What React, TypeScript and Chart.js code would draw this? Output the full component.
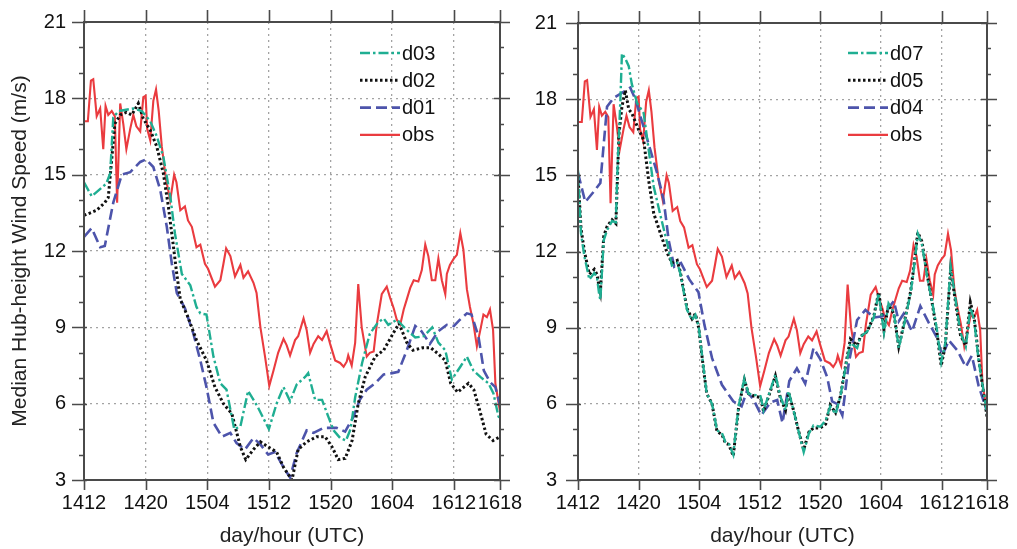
import React, { useEffect, useRef } from 'react';
import { Chart, registerables } from 'chart.js';

Chart.register(...registerables);

// ---------- axis definitions ----------
const tickHours = [0, 8, 16, 24, 32, 40, 48, 54];
const tickLabels = ['1412', '1420', '1504', '1512', '1520', '1604', '1612', '1618'];
const yTicks = [3, 6, 9, 12, 15, 18, 21];

// ---------- observations (hours since 14 Jan 12 UTC, m/s) ----------
const obsHours = [0, 0.5, 0.9, 1.2, 1.65, 2.1, 2.5, 2.8, 3.15, 3.6, 4.0, 4.3, 4.7, 5.1, 5.5, 6.0, 6.4, 6.8, 7.3, 7.7, 8.0, 8.2, 8.6, 9.0, 9.35, 9.7, 10.1, 10.65, 11.2, 11.7, 12.0, 12.5, 13.1, 13.5, 14.0, 14.6, 15.1, 15.7, 16.1, 17.0, 17.7, 18.1, 18.45, 19.0, 19.6, 20.3, 20.7, 21.3, 22.0, 22.4, 22.9, 23.5, 24.05, 24.6, 25.2, 25.9, 26.3, 26.75, 27.4, 27.8, 28.5, 28.9, 29.35, 29.8, 30.4, 30.9, 31.5, 31.95, 32.6, 33.25, 33.7, 34.1, 34.3, 34.75, 35.2, 35.6, 36.05, 36.7, 37.1, 37.6, 38.0, 38.65, 39.3, 39.75, 40.2, 40.6, 41.05, 41.5, 41.9, 42.35, 42.8, 43.4, 43.85, 44.3, 44.7, 45.15, 45.6, 46.0, 46.45, 46.9, 47.1, 47.5, 48.0, 48.4, 48.85, 49.25, 49.7, 50.1, 50.55, 51.0, 51.45, 51.85, 52.3, 52.7, 53.1, 53.4, 54.0];
const obsSpeed = [17.1, 17.1, 18.7, 18.75, 17.3, 17.6, 16.0, 17.7, 17.35, 17.5, 17.3, 13.9, 17.8, 17.0, 16.0, 16.8, 17.35, 16.9, 16.7, 18.05, 18.1, 16.8, 16.35, 17.9, 18.35, 17.5, 16.1, 14.8, 14.0, 15.0, 14.7, 13.6, 13.75, 13.2, 12.95, 12.15, 12.25, 11.5, 11.3, 10.6, 10.85, 11.5, 12.1, 11.8, 11.0, 11.45, 10.95, 11.2, 10.75, 10.35, 9.0, 7.85, 6.7, 7.3, 8.0, 8.55, 8.3, 7.9, 8.5, 8.65, 9.35, 8.9, 8.0, 8.35, 8.65, 8.5, 8.85, 8.35, 7.7, 7.6, 7.45, 7.65, 7.9, 7.5, 8.4, 10.7, 9.0, 7.85, 8.0, 8.05, 9.1, 10.3, 10.6, 10.15, 9.75, 9.3, 9.1, 9.7, 10.1, 10.55, 10.85, 10.8, 11.25, 12.25, 11.8, 10.85, 10.85, 11.7, 10.85, 10.3, 11.1, 11.45, 11.7, 11.85, 12.7, 12.05, 10.5, 9.8, 9.15, 8.25, 8.9, 9.5, 9.4, 9.7, 8.9, 6.8, 5.7];

// ---------- left panel models ----------
const d03Hours = [0, 1.0, 2.9, 3.4, 3.8, 4.5, 6.4, 7.5, 8.6, 9.45, 10.3, 11.2, 11.8, 12.7, 13.8, 14.6, 15.1, 15.9, 16.8, 17.7, 18.5, 19.5, 20.3, 21.3, 22.5, 24.0, 25.0, 25.9, 26.75, 27.6, 28.7, 29.1, 30.0, 30.9, 31.7, 32.4, 33.25, 34.0, 34.6, 35.2, 36.1, 37.1, 38.2, 38.9, 39.5, 40.6, 41.9, 43.0, 44.1, 45.2, 46.0, 46.9, 47.75, 48.85, 49.7, 50.55, 51.45, 52.5, 53.15, 53.8, 54];
const d03Speed = [14.7, 14.15, 14.65, 15.05, 17.25, 17.5, 17.6, 17.5, 17.1, 16.5, 15.7, 14.15, 12.7, 11.1, 10.65, 9.8, 9.55, 9.5, 7.85, 6.8, 6.55, 5.0, 5.1, 6.5, 5.9, 5.0, 6.0, 6.65, 6.1, 6.75, 7.05, 7.2, 6.15, 6.15, 5.5, 4.95, 4.65, 4.55, 5.0, 6.25, 7.6, 8.75, 9.2, 9.35, 9.1, 9.3, 8.9, 8.6, 8.65, 9.0, 8.4, 8.1, 6.95, 7.45, 7.85, 7.3, 7.05, 6.8, 6.4, 5.5, 5.4];

const d02Hours = [0, 1.65, 2.7, 3.15, 3.6, 4.0, 4.7, 5.5, 6.2, 7.05, 7.7, 8.6, 9.45, 10.3, 10.95, 11.6, 12.0, 12.5, 13.5, 14.6, 15.9, 17.0, 18.1, 19.2, 20.3, 21.0, 22.0, 22.9, 23.9, 25.0, 25.9, 27.0, 27.8, 28.9, 30.2, 31.3, 32.2, 33.0, 33.9, 34.8, 35.6, 36.5, 37.8, 38.9, 40.2, 40.9, 41.9, 42.7, 44.0, 45.0, 46.0, 46.9, 47.6, 48.5, 49.9, 50.6, 51.4, 52.2, 53.1, 54];
const d02Speed = [13.4, 13.6, 13.9, 14.1, 15.6, 17.0, 17.35, 17.45, 17.35, 17.8, 17.2, 16.75, 16.1, 15.05, 13.75, 12.2, 11.2, 10.1, 9.4, 8.5, 7.7, 6.65, 6.0, 5.6, 4.3, 3.8, 4.2, 4.5, 4.3, 4.1, 3.5, 3.0, 4.2, 4.5, 4.7, 4.7, 4.3, 3.8, 3.85, 4.55, 6.0, 7.05, 7.85, 8.1, 8.8, 9.15, 8.4, 8.1, 8.2, 8.2, 7.95, 7.7, 6.8, 6.45, 6.8, 6.55, 5.7, 4.8, 4.55, 4.7];

const d01Hours = [0, 1.0, 2.1, 2.7, 3.8, 4.9, 6.0, 7.3, 8.05, 9.0, 9.9, 10.75, 11.4, 12.05, 13.1, 14.2, 15.1, 15.9, 16.8, 17.9, 19.0, 19.8, 20.9, 22.0, 22.9, 23.9, 24.8, 25.9, 26.75, 27.6, 28.9, 29.8, 31.1, 32.8, 33.9, 35.0, 35.8, 36.7, 37.8, 38.9, 40.0, 40.8, 41.9, 43.0, 43.8, 44.9, 46.0, 47.1, 48.0, 48.8, 49.7, 50.3, 51.2, 51.9, 52.7, 53.4, 54];
const d01Speed = [12.55, 12.9, 12.15, 12.2, 13.9, 15.0, 15.1, 15.5, 15.6, 15.3, 14.4, 12.95, 11.5, 10.35, 9.75, 8.75, 7.7, 6.65, 5.25, 4.7, 4.85, 4.45, 4.2, 4.65, 4.4, 4.0, 4.1, 3.5, 3.1, 4.05, 4.95, 4.85, 5.05, 5.05, 4.9, 5.5, 6.15, 6.55, 6.8, 7.15, 7.2, 7.25, 8.1, 9.05, 8.85, 8.35, 8.85, 9.1, 9.05, 9.3, 9.55, 9.5, 8.65, 7.3, 6.85, 6.65, 5.95];

// ---------- right panel models ----------
const d04Hours = [0, 0.96, 2.06, 2.95, 3.83, 4.7, 5.8, 6.9, 7.57, 8.67, 9.55, 10.44, 11.3, 11.97, 12.7, 13.6, 14.7, 15.9, 16.7, 17.7, 19.0, 20.5, 21.6, 22.3, 23.2, 24.2, 25.4, 26.3, 27.0, 27.9, 28.9, 30.0, 31.1, 32.0, 32.9, 33.55, 34.2, 34.9, 35.75, 36.85, 37.95, 39.05, 40.2, 41.7, 42.35, 43.0, 44.1, 45.2, 46.3, 47.4, 48.1, 48.96, 50.1, 51.2, 52.0, 52.9, 54];
const d04Speed = [15.1, 13.95, 14.35, 14.7, 17.7, 18.05, 18.25, 18.45, 18.0, 16.9, 16.0, 15.1, 14.05, 12.45, 11.4, 11.55, 10.9, 10.4, 9.1, 7.8, 6.75, 6.1, 5.9, 6.5, 6.15, 5.55, 6.05, 6.15, 5.25, 6.9, 7.4, 6.8, 8.2, 7.75, 7.05, 6.1, 6.0, 5.55, 7.6, 9.3, 9.7, 9.4, 9.45, 10.05, 9.25, 9.55, 8.85, 9.85, 9.2, 8.6, 7.9, 8.5, 8.1, 7.45, 7.9, 6.7, 5.7];

const d07Hours = [0, 0.4, 0.85, 1.5, 2.15, 2.5, 2.8, 2.95, 3.4, 3.85, 4.5, 5.0, 5.2, 5.6, 5.8, 6.25, 6.7, 7.1, 7.8, 8.67, 9.33, 10.0, 10.9, 11.76, 12.4, 13.1, 13.5, 14.4, 15.06, 15.5, 15.93, 16.6, 17.0, 17.7, 18.36, 19.0, 19.46, 19.9, 20.5, 21.2, 21.97, 22.5, 23.3, 24.1, 24.5, 25.4, 26.06, 26.7, 27.4, 27.8, 28.5, 29.1, 29.8, 30.5, 31.1, 32.0, 32.7, 33.3, 34.0, 34.65, 35.3, 35.97, 36.86, 37.3, 38.2, 39.05, 39.7, 40.4, 41.0, 41.7, 42.35, 43.0, 43.9, 44.3, 44.86, 45.4, 46.1, 46.8, 47.4, 47.95, 48.5, 49.2, 49.8, 50.5, 51.2, 51.8, 52.3, 52.9, 53.6, 54];
const d07Speed = [15.2, 12.7, 11.8, 10.9, 11.15, 11.0, 10.3, 10.1, 12.45, 12.85, 13.2, 13.15, 15.1, 18.0, 19.8, 19.6, 19.3, 18.6, 17.85, 17.45, 16.0, 14.55, 13.4, 12.35, 11.45, 11.55, 11.15, 9.7, 9.3, 9.5, 9.05, 7.35, 6.4, 6.0, 4.95, 4.85, 4.5, 4.45, 4.0, 5.9, 7.0, 6.4, 6.35, 6.3, 5.75, 6.55, 7.15, 6.3, 5.75, 6.5, 5.7, 4.95, 4.1, 4.85, 5.15, 5.1, 5.35, 5.9, 5.6, 6.3, 7.4, 8.4, 8.2, 8.65, 8.85, 9.4, 10.35, 8.8, 9.95, 9.6, 8.2, 9.05, 10.35, 11.2, 12.7, 12.3, 11.0, 9.95, 8.9, 7.65, 8.4, 11.4, 10.2, 8.8, 8.25, 9.8, 9.3, 7.7, 6.4, 5.6];

const d05Hours = [0, 0.4, 0.85, 1.5, 2.15, 2.5, 2.8, 2.95, 3.4, 3.85, 4.5, 5.0, 5.4, 5.8, 6.25, 6.7, 7.1, 8.0, 8.67, 9.33, 10.0, 10.9, 11.76, 12.4, 13.1, 13.5, 14.4, 15.06, 15.5, 15.93, 16.6, 17.0, 17.7, 18.36, 19.0, 19.46, 19.9, 20.5, 21.2, 21.97, 22.5, 23.3, 24.1, 24.5, 25.4, 26.06, 26.7, 27.4, 27.8, 28.5, 29.1, 29.8, 30.5, 31.1, 32.0, 32.7, 33.3, 34.0, 34.65, 35.3, 35.97, 36.86, 37.3, 38.2, 39.05, 39.7, 40.4, 41.0, 41.7, 42.35, 43.0, 43.9, 44.3, 44.86, 45.4, 46.1, 46.8, 47.4, 47.95, 48.5, 49.2, 49.8, 50.5, 51.2, 51.8, 52.3, 52.9, 53.6, 54];
const d05Speed = [15.0, 12.9, 12.0, 11.1, 11.3, 11.1, 10.6, 10.4, 12.6, 13.0, 13.25, 13.1, 16.6, 17.7, 18.35, 17.6, 17.45, 16.8, 16.4, 14.8, 13.5, 12.7, 11.95, 11.55, 11.65, 11.2, 9.75, 9.35, 9.55, 9.0, 7.3, 6.4, 6.0, 4.9, 4.8, 4.45, 4.4, 3.95, 5.85, 6.95, 6.4, 6.3, 6.25, 5.7, 6.5, 7.1, 6.25, 5.75, 6.45, 5.7, 4.95, 4.2, 4.9, 5.05, 5.05, 5.2, 5.95, 5.65, 6.3, 7.45, 8.55, 8.3, 8.65, 8.85, 9.45, 10.4, 8.9, 9.9, 9.55, 8.25, 9.1, 10.4, 11.3, 12.75, 12.4, 11.1, 9.9, 8.8, 7.5, 8.3, 11.3, 10.1, 8.7, 8.3, 10.0, 9.4, 7.8, 6.3, 5.5];

// ---------- styling ----------
const FONT = '"Liberation Sans", Arial, Helvetica, sans-serif';
const TEAL = '#1fae92';
const BLACK = '#111111';
const BLUE = '#4d54ab';
const RED = '#ea3b3f';

type SeriesDef = { label: string; hours: number[]; speed: number[]; color: string; dash: number[]; width: number };

// listed in legend order; the first one is drawn on top
const leftSeries: SeriesDef[] = [
  { label: 'd03', hours: d03Hours, speed: d03Speed, color: TEAL, dash: [10, 3, 2.5, 3], width: 2.4 },
  { label: 'd02', hours: d02Hours, speed: d02Speed, color: BLACK, dash: [2.5, 2.5], width: 3 },
  { label: 'd01', hours: d01Hours, speed: d01Speed, color: BLUE, dash: [11, 5], width: 2.6 },
  { label: 'obs', hours: obsHours, speed: obsSpeed, color: RED, dash: [], width: 2.1 },
];
const rightSeries: SeriesDef[] = [
  { label: 'd07', hours: d07Hours, speed: d07Speed, color: TEAL, dash: [10, 3, 2.5, 3], width: 2.4 },
  { label: 'd05', hours: d05Hours, speed: d05Speed, color: BLACK, dash: [2.5, 2.5], width: 3 },
  { label: 'd04', hours: d04Hours, speed: d04Speed, color: BLUE, dash: [11, 5], width: 2.6 },
  { label: 'obs', hours: obsHours, speed: obsSpeed, color: RED, dash: [], width: 2.1 },
];

const framePlugin = {
  id: 'frame',
  afterDraw(chart: any) {
    const { ctx, chartArea: a, scales } = chart;
    const x = scales.x;
    const y = scales.y;
    ctx.save();
    ctx.strokeStyle = '#4a4a4a';
    ctx.lineWidth = 1.6;
    ctx.beginPath();
    tickHours.forEach((h) => {
      const px = Math.round(x.getPixelForValue(h)) + 0.5;
      ctx.moveTo(px, a.top - 12);
      ctx.lineTo(px, a.top);
      ctx.moveTo(px, a.bottom);
      ctx.lineTo(px, a.bottom + 10);
    });
    for (let v = 3; v <= 21; v++) {
      const py = Math.round(y.getPixelForValue(v)) + 0.5;
      if (v % 3 === 0) {
        ctx.moveTo(a.left - 12, py);
        ctx.lineTo(a.left + 3, py);
        ctx.moveTo(a.right - 6, py);
        ctx.lineTo(a.right + 10, py);
      } else {
        ctx.moveTo(a.left - 5, py);
        ctx.lineTo(a.left, py);
        ctx.moveTo(a.right, py);
        ctx.lineTo(a.right + 4, py);
      }
    }
    ctx.stroke();
    ctx.lineWidth = 2;
    ctx.strokeRect(a.left, a.top, a.right - a.left, a.bottom - a.top);
    ctx.restore();
  },
};

const legendPlugin = {
  id: 'panelLegend',
  afterDraw(chart: any, _args: any, opts: any) {
    const { ctx } = chart;
    chart.data.datasets.forEach((d: any, k: number) => {
      const yy = opts.top + k * opts.gap;
      ctx.save();
      ctx.strokeStyle = d.borderColor;
      ctx.lineWidth = d.borderWidth;
      ctx.setLineDash(d.borderDash || []);
      ctx.beginPath();
      ctx.moveTo(opts.left, yy);
      ctx.lineTo(opts.left + opts.len, yy);
      ctx.stroke();
      ctx.setLineDash([]);
      ctx.fillStyle = '#111';
      ctx.font = `20px ${FONT}`;
      ctx.textBaseline = 'middle';
      ctx.textAlign = 'left';
      ctx.fillText(d.label, opts.left + opts.len + 2, yy + 1);
      ctx.restore();
    });
  },
};

type PanelProps = {
  series: SeriesDef[];
  left: number;
  width: number;
  yWidth: number;
  padRight: number;
  padTop: number;
  showYTitle: boolean;
  yLabelPad: number;
  legendLeft: number;
};

function Panel(props: PanelProps) {
  const ref = useRef<HTMLCanvasElement | null>(null);
  useEffect(() => {
    if (!ref.current) return;
    const chart = new Chart(ref.current, {
      type: 'line',
      data: {
        datasets: props.series.map((s) => ({
          label: s.label,
          data: s.hours.map((h, i) => ({ x: h, y: s.speed[i] })),
          borderColor: s.color,
          backgroundColor: s.color,
          borderWidth: s.width,
          borderDash: s.dash,
          pointRadius: 0,
          tension: 0,
          fill: false,
        })),
      },
      options: {
        animation: false,
        responsive: false,
        maintainAspectRatio: false,
        layout: { padding: { left: 0, right: props.padRight, top: props.padTop, bottom: 0 } },
        plugins: {
          legend: { display: false },
          tooltip: { enabled: false },
          panelLegend: { left: props.legendLeft, top: 53, gap: 27.3, len: 40 },
        } as any,
        scales: {
          x: {
            type: 'linear',
            min: 0,
            max: 54,
            afterBuildTicks: (s: any) => {
              s.ticks = tickHours.map((v) => ({ value: v }));
            },
            afterFit: (s: any) => {
              s.height = 69;
              s.paddingLeft = 0;
              s.paddingRight = 0;
            },
            ticks: {
              autoSkip: false,
              maxRotation: 0,
              minRotation: 0,
              padding: 11,
              color: '#111',
              font: { family: FONT, size: 20 },
              callback: (v: any) => {
                const i = tickHours.indexOf(Number(v));
                return i >= 0 ? tickLabels[i] : '';
              },
            },
            grid: { color: '#a3a3a3', lineWidth: 1.3, drawTicks: false },
            border: { display: false, dash: [2, 4] },
            title: {
              display: true,
              text: 'day/hour (UTC)',
              color: '#222',
              font: { family: FONT, size: 21 },
              padding: { top: 0, bottom: 0 },
            },
          },
          y: {
            type: 'linear',
            min: 3,
            max: 21,
            afterBuildTicks: (s: any) => {
              s.ticks = yTicks.map((v) => ({ value: v }));
            },
            afterFit: (s: any) => {
              s.width = props.yWidth;
              s.paddingTop = 0;
              s.paddingBottom = 0;
            },
            ticks: {
              padding: props.yLabelPad,
              color: '#111',
              font: { family: FONT, size: 20 },
            },
            grid: { color: '#a3a3a3', lineWidth: 1.3, drawTicks: false },
            border: { display: false, dash: [2, 4] },
            title: {
              display: props.showYTitle,
              text: 'Median Hub-height Wind Speed (m/s)',
              color: '#222',
              font: { family: FONT, size: 21 },
              padding: { top: 8, bottom: 0 },
            },
          },
        },
      },
      plugins: [framePlugin, legendPlugin],
    } as any);
    return () => chart.destroy();
  }, []);
  return (
    <canvas
      ref={ref}
      width={props.width}
      height={549}
      style={{ position: 'absolute', left: props.left, top: 0, width: props.width, height: 549 }}
    />
  );
}

export default function App() {
  return (
    <div style={{ position: 'absolute', left: 0, top: 0, width: 1017, height: 549, background: '#fff', overflow: 'hidden' }}>
      <Panel series={leftSeries} left={0} width={535} yWidth={84} padRight={35} padTop={22} showYTitle={true} yLabelPad={18} legendLeft={360} />
      <Panel series={rightSeries} left={535} width={482} yWidth={43} padRight={30} padTop={23} showYTitle={false} yLabelPad={21} legendLeft={313} />
    </div>
  );
}
